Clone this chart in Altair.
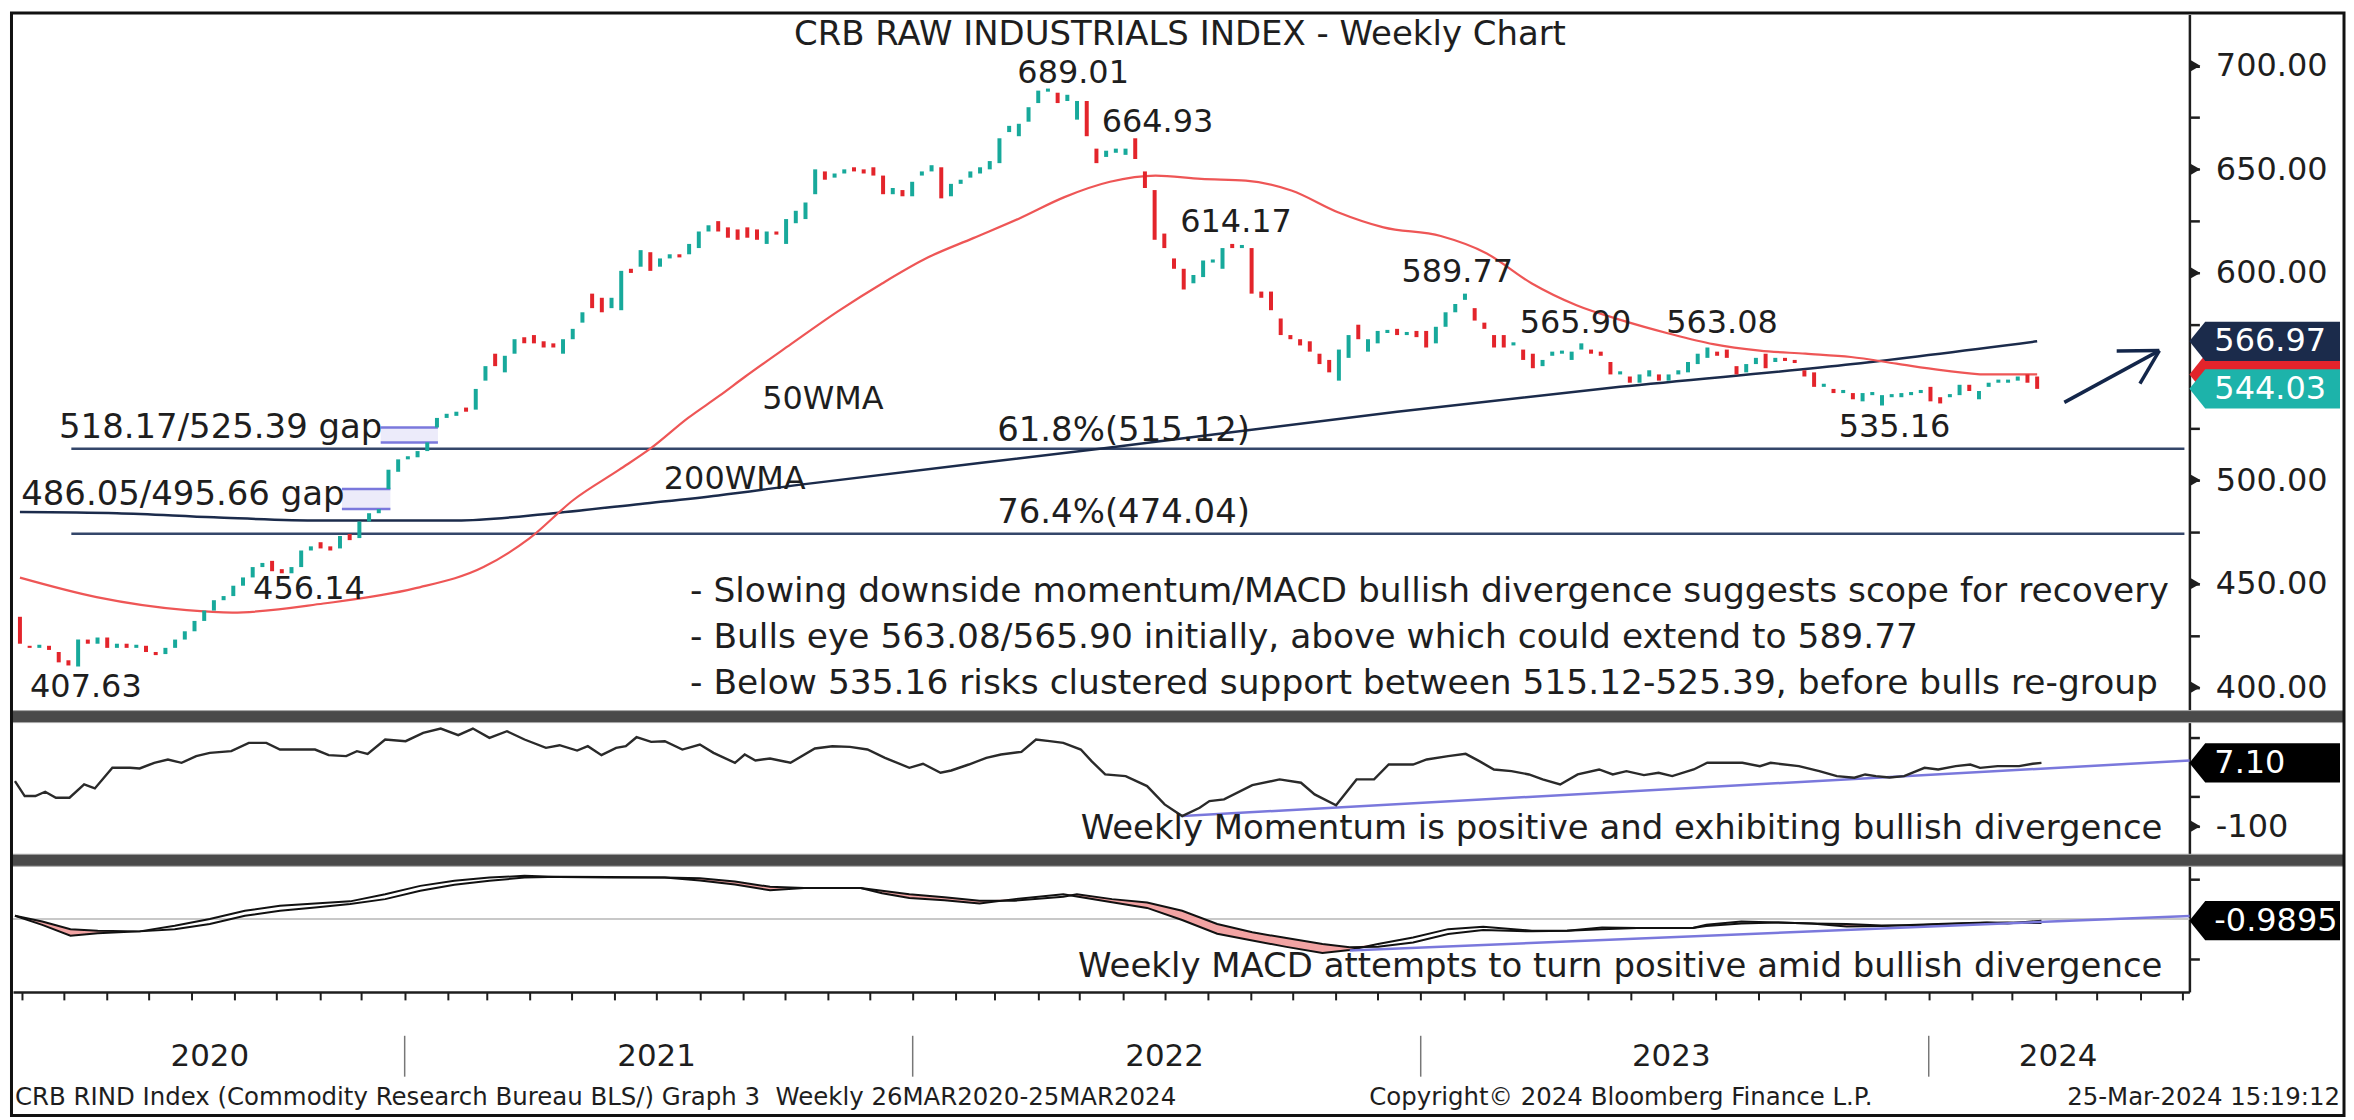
import altair as alt
import pandas as pd
import numpy as np

FONT = "DejaVu Sans"
INK = "#1e1e1e"
TEAL = "#17A99B"
RED = "#E3242B"
NAVY = "#1B2B4B"
LAV = "#7A78DC"

START = "2020-03-27"
X_DOM = ["2020-03-25T14:00:00", "2024-07-06T07:00:00"]
PW = 2182
H1, H2, H3 = 698, 132, 126
P_DOM = [388.7, 724.8]
M_DOM = [-147.2, 75.2]
C_DOM = [-45.6, 33.1]

# ---------------- weekly candles (open / close), week 0 = 27-Mar-2020 ----------------
opens = [434, 420, 419, 420, 417, 413, 410, 423, 421, 424, 419, 421, 419, 420, 417, 416, 419, 423, 427, 432,
         437, 442, 444, 449, 453, 458, 461, 457, 455, 458, 466, 470, 468, 467, 474, 472, 480, 484, 495.7, 504,
         510, 511, 514, 525.4, 530, 531, 535, 534, 548, 561, 552, 561, 569, 570, 567, 566, 561, 568, 576, 590,
         588, 583, 582, 602, 603, 610, 603, 607, 609, 609, 612, 620, 625, 622, 621, 622, 621, 614, 620, 614,
         624, 626, 638, 649, 646, 648, 651, 650, 651, 647, 638, 640, 637, 647, 649, 651, 637, 643, 646, 648,
         650, 653, 668, 666, 673, 682, 687.5, 687, 683, 674, 683, 660, 656, 658, 657, 665, 649, 640, 619, 607,
         602, 595, 598, 605, 602, 614, 612, 612, 591, 591, 578, 570, 568, 567, 561, 558, 548, 559, 575, 562,
         566, 571, 573, 570, 572, 572, 566, 574, 581, 587, 583, 576, 570, 570, 565, 563, 561, 555, 560, 561,
         558, 563, 563, 562, 557, 551, 550, 547, 550, 551, 548, 551, 552, 556, 559, 562, 563, 555, 552, 556,
         561, 557, 559, 558, 553, 552, 545, 544, 542, 542, 538, 541, 536, 540, 540, 541, 542, 545, 540, 540,
         541, 546, 539, 545, 547, 547, 548, 551, 550]
closes = [421, 419, 420.5, 418, 412, 410.5, 423, 421, 424, 419, 421, 419, 420.5, 417, 415.5, 419, 423, 427, 432, 437,
          442, 444, 449, 453, 458, 460, 456, 455, 458, 466, 468, 467, 466, 473, 471, 480, 484, 486, 505, 510,
          511.5, 514, 518.2, 530, 532, 533, 533, 544, 555, 555, 560, 568, 566, 566, 564, 564, 568, 573, 581, 583,
          581, 588, 601, 600, 611, 601, 607, 609, 607.5, 614, 620, 623, 620, 617, 616, 617, 616, 620, 618.5, 626,
          630, 634, 650, 645, 648, 650, 649, 648, 647, 638, 641, 637, 644, 649, 652, 636, 643, 645, 649, 651,
          654, 665, 671, 672, 680, 688, 689, 682, 686, 683, 666, 653, 659, 660, 660, 655, 641, 616, 612, 602,
          592, 599, 606, 606.5, 612, 612, 613.5, 590, 588, 582, 570, 568, 565, 562, 556, 552, 563, 570, 568, 568,
          572, 572.5, 570, 571.5, 569, 564, 574, 581, 585, 590, 577, 573, 564, 564, 566.5, 558, 554, 558, 562, 562.5,
          562, 566, 561, 560, 551, 552.5, 547, 551, 553, 548, 551, 553, 557, 561, 564, 560, 559, 551, 556, 559,
          554, 559, 557.5, 556.5, 550, 545, 546.5, 542, 543.5, 539, 542, 542.5, 541, 541.5, 542, 542.5, 543.5, 538, 537, 541.5,
          546, 543, 543, 547, 548.5, 548.5, 550, 547, 544.03]

# moving averages (week, value)
wma50_w = [0, 7.9, 17.2, 21.9, 31.3, 40.7, 47.8, 52.5, 57.1, 61.8, 65.1, 68.9, 72.1, 74.8, 79.5, 84.3, 88.9,
           93.6, 98.3, 103, 107.7, 112.4, 117.1, 121.8, 126.4, 131.1, 135.9, 140.6, 146.5, 151.2, 155.9, 160.5,
           165.2, 169.9, 174.6, 179.4, 184.1, 188.8, 193.5, 198.1, 202.8, 208]
wma50_v = [452.9, 443.5, 437.2, 436, 440.4, 447.7, 458, 471.7, 490.5, 505, 515.5, 530, 540.6, 550, 565.6, 581.3,
           594.9, 607.4, 616.8, 626.2, 636.6, 644, 647, 645.4, 644.6, 639.8, 629.3, 622, 617.8, 609.5, 594.9,
           584.4, 577.1, 570.9, 565.6, 562.5, 561, 559.4, 556.2, 553.1, 551, 551]
wma200_w = [0, 10, 20, 31, 45, 55, 64, 72, 80.5, 112, 142, 165, 189, 208]
wma200_v = [484.6, 484, 482, 480.5, 480.5, 484, 488.5, 492.6, 497.8, 515.5, 533, 545, 556, 566.97]

# momentum (week, value)
mom_w = [0, 1, 2.1, 3.1, 4.2, 5.6, 7.1, 8.2, 10, 11.8, 12.8, 14.3, 15.7, 17.1, 18.6, 20, 22.2, 24, 25.8, 27.2,
         30.8, 32.2, 34, 35.1, 36.2, 38, 40.1, 41.9, 43.7, 45.5, 47, 48.7, 50.5, 52.3, 54.5, 55.9, 57.7, 58.8,
         60.2, 61.7, 62.7, 63.8, 65.3, 66.7, 68.5, 70.3, 71.7, 73.9, 74.9, 76, 77.5, 79.6, 82.1, 83.9, 85.7, 87.5,
         89.3, 91.8, 93.2, 95, 96.1, 97.9, 99.7, 101.2, 103.3, 104.8, 106.2, 107.6, 109.4, 110.5, 111.9, 114,
         116.2, 118, 119.8, 121.6, 122.6, 124.1, 127, 129.8, 132, 133.4, 135.6, 137.7, 139.5, 141, 143.5, 144.9,
         147.1, 148.9, 150.3, 151.8, 153.6, 155.4, 156.8, 158.6, 160.4, 162.6, 164, 165.4, 167.2, 168.7, 170.1,
         172.3, 173.7, 177.3, 179.1, 180.2, 183.1, 185.2, 187, 188.8, 189.9, 191, 192.4, 193.9, 196, 197.4,
         199.2, 200.7, 201.7, 203.5, 205.7, 207.1, 208]
mom_v = [-23.6, -48.9, -48.9, -41.6, -51.7, -51.7, -29.3, -36, -1.2, -1.2, -2.3, 7.3, 12.9, 7.3, 18.5, 24.1, 26.9,
         41, 41, 29.7, 29.7, 20.2, 18.5, 26.9, 22.4, 46.6, 43.8, 57.8, 65.1, 53.9, 65.1, 49.4, 60.6, 46.6, 32.5,
         37, 28, 35.3, 20.2, 32.5, 35.3, 50.5, 42.6, 43.8, 29.7, 38.2, 24.1, 7.3, 21.3, 11.2, 14.6, 7.3, 31.4,
         35.3, 34.2, 29.7, 15.7, -1.2, 5.6, -9.6, -5.7, 4.4, 15.7, 21.3, 25.8, 46.6, 43.8, 41, 29.7, 10.1, -12.4,
         -15.2, -32.1, -63, -82.6, -68.6, -57.3, -54.5, -30.4, -20.8, -26.4, -46.1, -64.5, -20.8, -20.8, 4.4,
         4.4, 12.9, 18.5, 22.4, 10.1, -4, -6.8, -12.4, -20.8, -29.3, -12.4, -4, -12.4, -6.8, -13.5, -9.6, -15.2,
         -4, 7.3, 7.3, 1.6, 7.3, 1.6, -6.8, -15.2, -18, -12.4, -15.2, -17.5, -15.2, -1.2, -4, 1.6, 4.4, -1.2,
         1.6, 1.6, 5.6, 7.1]
mom_div_w = [119.8, 223.2]
mom_div_v = [-82.6, 11.2]

# MACD / signal (week, value)
macd_w = [0, 2.8, 5.7, 8.5, 12.8, 16.4, 20, 23.6, 27.2, 30.8, 34.4, 38, 41.6, 45.1, 48.7, 52.3, 55.9, 61, 66.7,
          70.3, 73.9, 77.5, 81, 86.8, 89, 91.8, 95.4, 99, 102.6, 107.6, 109, 112.6, 116.2, 119.8, 123.4, 127,
          130.5, 134.2, 137, 139.9, 143.5, 147.1, 150.7, 155.7, 159.3, 162.9, 166.5, 172.2, 173.6, 177.2, 180.8,
          184.4, 188, 191.6, 195.2, 198.8, 202.4, 204.5, 208]
macd_v = [2.1, -3.6, -10.4, -8.8, -7.7, -4.2, 0, 5.2, 8.3, 9.8, 11.1, 15.6, 20.8, 24, 26, 27.1, 26.3, 26.1, 26,
          24.2, 21.6, 18.0, 19.4, 19.4, 16.2, 13.2, 11.8, 9.8, 12.5, 15.6, 14.2, 10.6, 7.0, -0.6, -9.2, -13.4,
          -17.4, -21.2, -19.4, -15.6, -11.5, -6.3, -4.8, -7.3, -7.3, -5.2, -5.6, -5.6, -3.6, -1.5, -2.1, -2.7,
          -4.6, -4.4, -3.6, -2.7, -2.1, -2.7, -0.99]
sig_v = [2.1, -1.5, -6.3, -7.3, -7.7, -6.3, -3.1, 2.1, 5.2, 7.3, 9.4, 12.5, 17.7, 21.5, 24, 26, 26.5, 26.3, 26,
         25.6, 23.6, 20.2, 19.4, 19.4, 17.7, 15.6, 13.6, 11.5, 11.5, 14, 15.6, 12.5, 10.4, 5.2, -3.1, -8.3,
         -11.9, -15.6, -17.7, -17.3, -14.6, -9.4, -6.9, -7.7, -7.3, -6.3, -5.6, -5.6, -4.4, -2.7, -2.1, -2.7,
         -3.1, -4.0, -3.8, -3.0, -2.3, -2.1, -2.5]
macd_div_w = [137, 223.2]
macd_div_v = [-19.6, 2.0]

# annotations
peak_txt = ["689.01", "664.93", "614.17", "589.77", "565.90", "563.08", "535.16", "456.14", "407.63",
            "50WMA", "200WMA"]
peak_w = [108.6, 117.3, 125.4, 148.2, 160.4, 175.5, 193.3, 29.8, 6.8, 82.8, 73.7]
peak_v = [696.6, 672.8, 624.6, 600.6, 576, 576, 525.5, 447.2, 400.2, 539, 500.6]
lev_txt = ["61.8%(515.12)", "76.4%(474.04)", "518.17/525.39 gap", "486.05/495.66 gap"]
lev_w = [113.8, 113.8, 20.7, 16.8]
lev_v = [523.5, 484, 525, 492.7]
notes = ["- Slowing downside momentum/MACD bullish divergence suggests scope for recovery",
         "- Bulls eye 563.08/565.90 initially, above which could extend to 589.77",
         "- Below 535.16 risks clustered support between 515.12-525.39, before bulls re-group"]
notes_v = [446.0, 423.6, 401.4]
notes_w = 69.1
fib_v = [515.12, 474.04]
fib_w0 = 5.3
gap_lo = [518.17, 486.05]
gap_hi = [525.39, 495.66]
gap_w0 = [37.2, 33.2]
gap_w1 = [43.1, 38.2]
arrow_w = [[210.8, 220.6], [216.2, 220.6], [218.6, 220.6]]
arrow_v = [[537.5, 562.5], [562.3, 562.5], [546.6, 562.5]]
tag_v = [551.0, 566.97, 544.03]
tag_c = [RED, NAVY, "#1DB3AA"]
tag_txt_v = [566.97, 544.03]
tag_txt_t = ["566.97", "544.03"]
price_ticks = [400, 425, 450, 475, 500, 525, 575, 600, 625, 650, 675, 700]
price_major = [400, 450, 500, 600, 650, 700]
year_lbl = ["2020", "2021", "2022", "2023", "2024"]
year_mid = ["2020-08-14", "2021-07-01", "2022-07-01", "2023-06-30", "2024-04-03"]
year_start = ["2021-01-01", "2022-01-01", "2023-01-01", "2024-01-01"]
TITLE = "CRB RAW INDUSTRIALS INDEX - Weekly Chart"
MOM_NOTE = "Weekly Momentum is positive and exhibiting bullish divergence"
MACD_NOTE = "Weekly MACD attempts to turn positive amid bullish divergence"
FOOT_L = "CRB RIND Index (Commodity Research Bureau BLS/) Graph 3\u00a0 Weekly 26MAR2020-25MAR2024"
FOOT_C = "Copyright\u00a9 2024 Bloomberg Finance L.P."
FOOT_R = "25-Mar-2024 15:19:12"

base = pd.Timestamp(START)


def dates(ws):
    return [base + pd.Timedelta(days=7.0 * float(w)) for w in ws]


def X(axis=None):
    return alt.X("date:T", scale=alt.Scale(domain=X_DOM), axis=axis, title=None)


def X2(field="date2"):
    return alt.X2(f"{field}:T")


def Ys(field, dom, axis):
    return alt.Y(f"{field}:Q", scale=alt.Scale(domain=dom, nice=False, zero=False), axis=axis, title=None)


one = pd.DataFrame({"k": [0]})
TAG_PATH = "M -1 0 L -0.79 -0.26 L 1 -0.26 L 1 0.26 L -0.79 0.26 Z"
TAG_X = PW + 75.5
TAG_SIZE = 151 * 151


def ax(values, expr, lab=True):
    return alt.Axis(orient="right", values=values, labelExpr=expr, labels=lab, tickSize=10, tickWidth=2.5,
                    tickColor=INK, domainColor=INK, domainWidth=2.5, labelFont=FONT, labelFontSize=32,
                    labelColor=INK, labelPadding=16, grid=False, title=None, labelOverlap=False,
                    labelFlush=False, labelBound=False)


# ---------------- price panel ----------------
PA = ax(price_ticks, "datum.value % 50 == 0 ? format(datum.value, '.2f') : ''")


def YP(field):
    return Ys(field, P_DOM, PA)


cand = pd.DataFrame({"date": dates(range(len(opens))), "open": opens, "close": closes})
cand["dir"] = np.where(cand["close"] >= cand["open"], "up", "down")

gaps = pd.DataFrame({"date": dates(gap_w0), "date2": dates(gap_w1), "lo": gap_lo, "hi": gap_hi})
gap_box = alt.Chart(gaps).mark_rect(color="#ECEBFA").encode(x=X(), x2=X2(), y=YP("lo"), y2="hi:Q")
gap_l1 = alt.Chart(gaps).mark_rule(color=LAV, strokeWidth=2.5).encode(x=X(), x2=X2(), y=YP("lo"))
gap_l2 = alt.Chart(gaps).mark_rule(color=LAV, strokeWidth=2.5).encode(x=X(), x2=X2(), y=YP("hi"))

fib = pd.DataFrame({"date": dates([fib_w0] * 2), "date2": [pd.Timestamp(X_DOM[1])] * 2, "v": fib_v})
fib_l = alt.Chart(fib).mark_rule(color="#34466A", strokeWidth=2.5).encode(x=X(), x2=X2(), y=YP("v"))

w200 = pd.DataFrame({"date": dates(wma200_w), "v": wma200_v})
w50 = pd.DataFrame({"date": dates(wma50_w), "v": wma50_v})
l200 = alt.Chart(w200).mark_line(color=NAVY, strokeWidth=2.5, interpolate="monotone").encode(x=X(), y=YP("v"))
l50 = alt.Chart(w50).mark_line(color="#EE5656", strokeWidth=2.2, interpolate="monotone").encode(x=X(), y=YP("v"))

bars = alt.Chart(cand).mark_bar(size=4).encode(
    x=X(), y=YP("open"), y2="close:Q",
    color=alt.Color("dir:N", scale=alt.Scale(domain=["up", "down"], range=[TEAL, RED]), legend=None))

lbl = pd.DataFrame({"date": dates(peak_w), "v": peak_v, "t": peak_txt})
lbl_t = alt.Chart(lbl).mark_text(font=FONT, fontSize=32, color=INK, align="center", baseline="middle").encode(
    x=X(), y=YP("v"), text="t:N")
lev = pd.DataFrame({"date": dates(lev_w), "v": lev_v, "t": lev_txt})
lev_t = alt.Chart(lev).mark_text(font=FONT, fontSize=34, color=INK, align="center", baseline="middle").encode(
    x=X(), y=YP("v"), text="t:N")

nts = pd.DataFrame({"date": dates([notes_w] * 3), "v": notes_v, "t": notes})
nts_t = alt.Chart(nts).mark_text(font=FONT, fontSize=34.5, color=INK, align="left", baseline="middle").encode(
    x=X(), y=YP("v"), text="t:N")

arr_rows = []
for i, (ws, vs) in enumerate(zip(arrow_w, arrow_v)):
    for w, v in zip(ws, vs):
        arr_rows.append({"date": dates([w])[0], "v": v, "seg": i})
arr = alt.Chart(pd.DataFrame(arr_rows)).mark_line(color="#13264A", strokeWidth=3.5).encode(
    x=X(), y=YP("v"), detail="seg:N")

tags = pd.DataFrame({"v": tag_v, "c": tag_c})
tag_m = alt.Chart(tags).mark_point(shape=TAG_PATH, filled=True, size=TAG_SIZE, opacity=1).encode(
    x=alt.value(TAG_X), y=YP("v"), color=alt.Color("c:N", scale=None))
tag_lbl = pd.DataFrame({"v": tag_txt_v, "t": tag_txt_t})
tag_txt = alt.Chart(tag_lbl).mark_text(font=FONT, fontSize=32, color="white", align="left",
                                       baseline="middle").encode(
    x=alt.value(PW + 25), y=YP("v"), text="t:N")

tri = pd.DataFrame({"v": price_major})
tri_m = alt.Chart(tri).mark_point(shape="triangle-right", filled=True, size=130, color=INK, opacity=1).encode(
    x=alt.value(PW + 6), y=YP("v"))

title_t = alt.Chart(pd.DataFrame({"t": [TITLE]})).mark_text(
    font=FONT, fontSize=34, color=INK, align="center", baseline="middle").encode(
    x=alt.value(1170), y=alt.value(21), text="t:N")

price = alt.layer(gap_box, gap_l1, gap_l2, fib_l, l200, l50, bars, lbl_t, lev_t, nts_t, arr, tag_m, tag_txt,
                  tri_m, title_t).properties(width=PW, height=H1)


# ---------------- separators ----------------
def separator():
    return alt.Chart(one).mark_rect(color="#4a4a4a", stroke="#a8a8a8", strokeWidth=1).encode(
        x=alt.value(-1.5), x2=alt.value(2337), y=alt.value(-12), y2=alt.value(0))


# ---------------- momentum panel ----------------
MA = ax([50, -50, -100], "datum.value == -100 ? '-100' : ''")


def YM(field):
    return Ys(field, M_DOM, MA)


mom = pd.DataFrame({"date": dates(mom_w), "v": mom_v})
mdiv = pd.DataFrame({"date": dates(mom_div_w), "v": mom_div_v})
mom_line = alt.Chart(mom).mark_line(color="#2a2a2a", strokeWidth=2.4).encode(x=X(), y=YM("v"))
mom_div = alt.Chart(mdiv).mark_line(color=LAV, strokeWidth=2.5).encode(x=X(), y=YM("v"))
mtag = pd.DataFrame({"v": [7.10], "t": ["7.10"]})
mtag_m = alt.Chart(mtag).mark_point(shape=TAG_PATH, filled=True, size=TAG_SIZE, opacity=1, color="#000000").encode(
    x=alt.value(TAG_X), y=YM("v"))
mtag_t = alt.Chart(mtag).mark_text(font=FONT, fontSize=32, color="white", align="left", baseline="middle").encode(
    x=alt.value(PW + 25), y=YM("v"), text="t:N")
mtri = alt.Chart(pd.DataFrame({"v": [-100]})).mark_point(shape="triangle-right", filled=True, size=130,
                                                         color=INK, opacity=1).encode(
    x=alt.value(PW + 6), y=YM("v"))
mnote = alt.Chart(pd.DataFrame({"t": [MOM_NOTE]})).mark_text(
    font=FONT, fontSize=34, color=INK, align="right", baseline="middle").encode(
    x=alt.value(2155), y=alt.value(107), text="t:N")
momentum = alt.layer(separator(), mom_div, mom_line, mtag_m, mtag_t, mtri, mnote).properties(width=PW, height=H2)

# ---------------- MACD panel ----------------
XA = alt.Axis(orient="bottom", labels=False, title=None, grid=False,
              tickCount={"interval": "month", "step": 1}, tickSize=8, tickWidth=2, tickColor=INK,
              domainColor=INK, domainWidth=2.5)
CA = ax([25, -25], "''", lab=False)


def XC():
    return X(XA)


def YC(field):
    return Ys(field, C_DOM, CA)


mc = pd.DataFrame({"date": dates(macd_w), "m": macd_v, "s": sig_v})
mc["lo"] = mc["m"]
mc["hi"] = np.where(mc["m"] < mc["s"], mc["s"], mc["m"])
cdiv = pd.DataFrame({"date": dates(macd_div_w), "v": macd_div_v})
zero = alt.Chart(pd.DataFrame({"v": [0]})).mark_rule(color="#c8c8c8", strokeWidth=2).encode(y=YC("v"))
pink = alt.Chart(mc).mark_area(color="#F2A3A3", opacity=1).encode(x=XC(), y=YC("lo"), y2="hi:Q")
sig_l = alt.Chart(mc).mark_line(color="#111111", strokeWidth=2).encode(x=XC(), y=YC("s"))
macd_l = alt.Chart(mc).mark_line(color="#111111", strokeWidth=2).encode(x=XC(), y=YC("m"))
c_div = alt.Chart(cdiv).mark_line(color=LAV, strokeWidth=2.5).encode(x=XC(), y=YC("v"))
ctag = pd.DataFrame({"v": [-0.9895], "t": ["-0.9895"]})
ctag_m = alt.Chart(ctag).mark_point(shape=TAG_PATH, filled=True, size=TAG_SIZE, opacity=1, color="#000000").encode(
    x=alt.value(TAG_X), y=YC("v"))
ctag_t = alt.Chart(ctag).mark_text(font=FONT, fontSize=32, color="white", align="left", baseline="middle").encode(
    x=alt.value(PW + 25), y=YC("v"), text="t:N")
cnote = alt.Chart(pd.DataFrame({"t": [MACD_NOTE]})).mark_text(
    font=FONT, fontSize=34, color=INK, align="right", baseline="middle").encode(
    x=alt.value(2155), y=alt.value(101), text="t:N")
yrs = pd.DataFrame({"date": [pd.Timestamp(d) for d in year_mid], "t": year_lbl})
yr_t = alt.Chart(yrs).mark_text(font=FONT, fontSize=31, color=INK, align="center", baseline="middle").encode(
    x=XC(), y=alt.value(191), text="t:N")
divs = pd.DataFrame({"date": [pd.Timestamp(d) for d in year_start]})
yr_r = alt.Chart(divs).mark_rule(color="#777777", strokeWidth=1.5).encode(
    x=XC(), y=alt.value(170), y2=alt.value(211))
foot_l = alt.Chart(pd.DataFrame({"t": [FOOT_L]})).mark_text(
    font=FONT, fontSize=24.5, color=INK, align="left", baseline="middle").encode(
    x=alt.value(2), y=alt.value(232), text="t:N")
foot_c = alt.Chart(pd.DataFrame({"t": [FOOT_C]})).mark_text(
    font=FONT, fontSize=24.5, color=INK, align="center", baseline="middle").encode(
    x=alt.value(1612), y=alt.value(232), text="t:N")
foot_r = alt.Chart(pd.DataFrame({"t": [FOOT_R]})).mark_text(
    font=FONT, fontSize=24.5, color=INK, align="right", baseline="middle").encode(
    x=alt.value(2333), y=alt.value(232), text="t:N")
frame = alt.Chart(one).mark_rect(filled=False, color="#111111", strokeWidth=3).encode(
    x=alt.value(-1.5), x2=alt.value(2337), y=alt.value(-855.5), y2=alt.value(250))

macd = alt.layer(separator(), zero, pink, sig_l, macd_l, c_div, ctag_m, ctag_t, cnote, yr_r, yr_t,
                 foot_l, foot_c, foot_r, frame).properties(width=PW, height=H3)

chart = alt.vconcat(price, momentum, macd, spacing=12, bounds="flush").properties(
    padding={"left": 2, "top": 2, "right": 0, "bottom": 0}, background="white"
).configure_view(strokeWidth=0)

chart.save("out.html", embed_options={"renderer": "svg", "actions": False})
